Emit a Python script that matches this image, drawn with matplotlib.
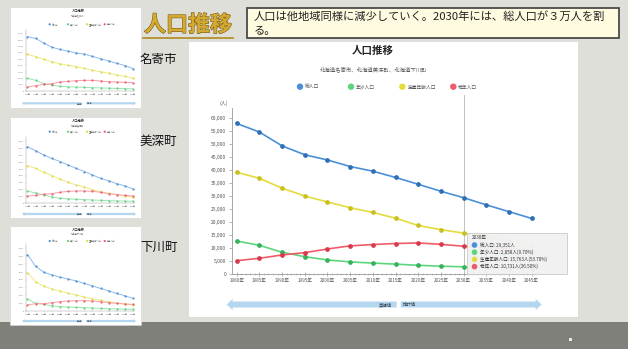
import matplotlib
matplotlib.use('Agg')
import matplotlib.pyplot as plt
from matplotlib.patches import Rectangle, Polygon, Circle
import matplotlib.patheffects as pe

plt.rcParams['font.family'] = ['Noto Sans CJK JP', 'DejaVu Sans']

# ---------------- data ----------------
years = [1980, 1985, 1990, 1995, 2000, 2005, 2010, 2015, 2020, 2025, 2030, 2035, 2040, 2045]
year_labels = [f"{y}年" for y in years]
series_names = ["総人口", "年少人口", "生産年齢人口", "老年人口"]

total = [57800, 54500, 49200, 45800, 43800, 41300, 39500, 37100, 34500, 31800, 29351, 26600, 24000, 21400]
young = [12750, 11100, 8450, 6750, 5500, 4750, 4300, 3900, 3450, 3100, 2858, 2600, 2400, 2200]
working = [39100, 36800, 33000, 30000, 27700, 25500, 23700, 21500, 18700, 17100, 15763, 14300, 12800, 11400]
elderly = [5200, 6150, 7400, 8300, 9700, 10900, 11400, 11800, 12000, 11500, 10731, 10200, 9700, 9100]

tooltip_year = "2030年"
tooltip_rows = ["総人口: 29,351人", "年少人口: 2,858人(9.70%)",
                "生産年齢人口: 15,763人(53.70%)", "老年人口: 10,731人(36.50%)"]

# mini charts (per town)
nayoro_total = [42400, 41000, 37400, 34200, 32400, 31000, 29700, 28800, 27000, 25200, 23400, 21600, 19800, 17500]
nayoro_young = [9900, 8300, 5700, 4700, 3600, 3300, 3100, 2900, 2600, 2400, 2200, 2000, 1900, 1700]
nayoro_working = [28600, 26800, 24700, 22900, 21300, 20000, 19000, 17700, 16100, 15100, 13800, 12500, 11400, 9900]
nayoro_elderly = [3100, 4200, 5200, 5700, 7000, 7500, 8100, 8300, 8300, 7800, 7300, 7000, 6800, 6500]

bifuka_total = [8190, 7600, 6980, 6480, 6030, 5540, 5040, 4590, 4100, 3600, 3240, 2840, 2520, 2070]
bifuka_young = [1780, 1490, 1200, 910, 720, 640, 580, 530, 480, 430, 390, 350, 320, 290]
bifuka_working = [5440, 5050, 4480, 4000, 3510, 3030, 2650, 2360, 1970, 1680, 1440, 1250, 1060, 870]
bifuka_elderly = [1060, 1150, 1300, 1400, 1590, 1730, 1780, 1780, 1730, 1590, 1400, 1250, 1150, 1060]

shimo_total = [7200, 5680, 4960, 4600, 4320, 4080, 3840, 3520, 3200, 2880, 2560, 2240, 1960, 1600]
shimo_young = [1530, 980, 850, 680, 550, 500, 460, 420, 380, 340, 300, 270, 240, 210]
shimo_working = [4890, 3740, 3190, 2810, 2550, 2260, 2040, 1790, 1570, 1360, 1190, 1020, 890, 770]
shimo_elderly = [770, 940, 940, 1060, 1190, 1280, 1320, 1320, 1280, 1190, 1060, 980, 890, 850]

town_names = ["名寄市", "美深町", "下川町"]
town_subtitles = ["北海道名寄市", "北海道美深町", "北海道下川町"]

line_colors = ['#4a90d9', '#5cd67d', '#e3dc3a', '#ef5b6b']
mark_colors = ['#2f6fb5', '#35b25a', '#c9c020', '#d83a4c']
mini_colors = ['#8fbbe8', '#9fe3b2', '#ede88a', '#f4a0aa']

W, H = 628, 349
fig = plt.figure(figsize=(W / 100, H / 100), dpi=100)
fig.patch.set_facecolor('#dfdfda')

bg = fig.add_axes([0, 0, 1, 1])
bg.set_xlim(0, W)
bg.set_ylim(H, 0)
bg.axis('off')


def pax(x0, y0, x1, y1):
    return fig.add_axes([x0 / W, 1 - y1 / H, (x1 - x0) / W, (y1 - y0) / H])


def pt(px):
    return px / 1.389


def band_arrow(x0, x1, xg, yc, h, hh, hl, color='#b4d6ee'):
    left = [(x0, yc), (x0 + hl, yc - hh / 2), (x0 + hl, yc - h / 2), (xg - 2, yc - h / 2),
            (xg - 2, yc + h / 2), (x0 + hl, yc + h / 2), (x0 + hl, yc + hh / 2)]
    right = [(x1, yc), (x1 - hl, yc - hh / 2), (x1 - hl, yc - h / 2), (xg + 2, yc - h / 2),
             (xg + 2, yc + h / 2), (x1 - hl, yc + h / 2), (x1 - hl, yc + hh / 2)]
    bg.add_patch(Polygon(left, closed=True, facecolor=color, edgecolor='none', zorder=3))
    bg.add_patch(Polygon(right, closed=True, facecolor=color, edgecolor='none', zorder=3))


# ---------------- slide decorations ----------------
bg.add_patch(Rectangle((0, 322), W, H - 322, facecolor='#80807a', edgecolor='none', zorder=1))
bg.add_patch(Rectangle((568.5, 337.5), 3, 3, facecolor='#e8e8e8', edgecolor='none', zorder=2))

t = bg.text(188, 25, "人口推移", fontsize=pt(22), fontweight='bold', color='#d4aa30',
            ha='center', va='center', zorder=5)
t.set_path_effects([pe.withStroke(linewidth=0.8, foreground='#7a5a12')])
bg.plot([143, 233], [37.5, 37.5], color='#b08a20', lw=1.2, zorder=5)

bg.add_patch(Rectangle((247, 8), 372, 30, facecolor='#fffbe0', edgecolor='#4a4a4a', lw=1.3, zorder=4))
bg.text(254, 16.5, "人口は他地域同様に減少していく。2030年には、総人口が３万人を割",
        fontsize=pt(11.3), color='#222222', ha='left', va='center', zorder=5)
bg.text(254, 31, "る。", fontsize=pt(11.3), color='#222222', ha='left', va='center', zorder=5)

for name, yy in zip(town_names, [59, 141, 247]):
    bg.text(140, yy, name, fontsize=pt(12.5), color='#111111', ha='left', va='center', zorder=5)

# ---------------- mini charts ----------------
minis = [
    dict(y0=7, yb=108, ytit=11, ysub=16.5, yleg=24.3, ytop=33.3, yzero=91, yarr=103.3,
         vals=[nayoro_total, nayoro_young, nayoro_working, nayoro_elderly], ymax=45000, step=5000),
    dict(y0=117, yb=218, ytit=121, ysub=126, yleg=131.7, ytop=141, yzero=203.3, yarr=214,
         vals=[bifuka_total, bifuka_young, bifuka_working, bifuka_elderly], ymax=9000, step=1000),
    dict(y0=226, yb=325, ytit=229.5, ysub=234, yleg=241, ytop=248.3, yzero=311, yarr=321,
         vals=[shimo_total, shimo_young, shimo_working, shimo_elderly], ymax=8000, step=1000),
]

for i, m in enumerate(minis):
    bg.add_patch(Rectangle((10, m['y0']), 131, m['yb'] - m['y0'], facecolor='white',
                           edgecolor='#d4d4d4', lw=0.4, zorder=2))
    bg.text(78, m['ytit'], "人口推移", fontsize=2.3, fontweight='bold', color='#333333',
            ha='center', va='center', zorder=4)
    bg.text(78, m['ysub'], town_subtitles[i], fontsize=1.6, color='#777777',
            ha='center', va='center', zorder=4)
    for k, lx in enumerate([49.7, 68, 87, 104.7]):
        bg.add_patch(Circle((lx, m['yleg']), 1.1, facecolor=line_colors[k], edgecolor='none', zorder=4))
        bg.text(lx + 1.8, m['yleg'], series_names[k], fontsize=1.5, color='#666666',
                ha='left', va='center', zorder=4)
    x_ax, x1980, x2045 = 25.5, 27.5, 133
    ppy = (x2045 - x1980) / 65.0
    ax_top = m['ytop'] - 4
    a = pax(x_ax, ax_top, x2045 + 2, m['yzero'])
    a.set_xlim(1980 - (x1980 - x_ax) / ppy, 2045 + 2 / ppy)
    a.set_ylim(0, m['ymax'] * (m['yzero'] - ax_top) / (m['yzero'] - m['ytop']))
    a.patch.set_alpha(0)
    for k, v in enumerate(m['vals']):
        a.plot(years, v, color=mini_colors[k], lw=0.7, marker='o', ms=0.6,
               mfc=line_colors[k], mec=line_colors[k])
    for s in ['top', 'right']:
        a.spines[s].set_visible(False)
    for s in ['left', 'bottom']:
        a.spines[s].set_color('#999999')
        a.spines[s].set_linewidth(0.3)
    a.set_xticks(years)
    a.set_xticklabels(year_labels, fontsize=1.3, color='#666666')
    yt = list(range(0, m['ymax'] + 1, m['step']))
    a.set_yticks(yt)
    a.set_yticklabels([f"{v:,}" for v in yt], fontsize=1.3, color='#666666')
    a.tick_params(length=0.8, width=0.2, pad=0.5, colors='#999999', labelcolor='#666666')
    xg = x1980 + 7 * 5 * ppy
    band_arrow(22, 136, xg, m['yarr'], 2.2, 4.0, 2.5)
    bg.text(xg - 2.5, m['yarr'], "実績値", fontsize=1.3, color='#334455', ha='right', va='center', zorder=4)
    bg.text(xg + 2.5, m['yarr'], "推計値", fontsize=1.3, color='#334455', ha='left', va='center', zorder=4)

# ---------------- main chart ----------------
bg.add_patch(Rectangle((188, 41), 390, 276, facecolor='white', edgecolor='#d6d6d6', lw=0.5, zorder=2))
bg.text(373, 51, "人口推移", fontsize=pt(10.5), fontweight='bold', color='#222222',
        ha='center', va='center', zorder=4)
bg.text(374, 69, "北海道名寄市、北海道美深町、北海道下川町", fontsize=pt(5.4), color='#555555',
        ha='center', va='center', zorder=4)
for k, lx in enumerate([300, 351, 402.3, 453.3]):
    bg.add_patch(Circle((lx, 86.7), 3.2, facecolor=line_colors[k], edgecolor='none', zorder=4))
    bg.text(lx + 5, 86.9, series_names[k], fontsize=pt(4.8), color='#555555',
            ha='left', va='center', zorder=4)

AX0, AX1, AY0, AY1 = 231.7, 535, 108.3, 274.3
PX1980, PX2045 = 236.7, 531.7
ppy = (PX2045 - PX1980) / 65.0
ppv = (AY1 - 117.7) / 60000.0
ax = pax(AX0, AY0, AX1, AY1)
ax.patch.set_alpha(0)
ax.set_xlim(1980 - (PX1980 - AX0) / ppy, 2045 + (AX1 - PX2045) / ppy)
ax.set_ylim(0, (AY1 - AY0) / ppv)

for k, v in enumerate([total, young, working, elderly]):
    ax.plot(years, v, color=line_colors[k], lw=1.2, marker='o', ms=2.4,
            mfc=mark_colors[k], mec=mark_colors[k], zorder=3)

ax.plot([2030, 2030], [0, (AY1 - 95) / ppv], color='#b5b5b5', lw=0.6, clip_on=False, zorder=2)

for s in ['top', 'right']:
    ax.spines[s].set_visible(False)
for s in ['left', 'bottom']:
    ax.spines[s].set_color('#9a9a9a')
    ax.spines[s].set_linewidth(0.6)
ax.set_xticks(years)
ax.set_xticklabels(year_labels, fontsize=pt(4.6), color='#555555')
ax.set_xticks(list(range(1980, 2046)), minor=True)
yticks = list(range(0, 60001, 5000))
ax.set_yticks(yticks)
ax.set_yticklabels([f"{v:,}" for v in yticks], fontsize=pt(5.0), color='#555555')
ax.tick_params(axis='y', length=2, width=0.5, pad=2, colors='#9a9a9a', labelcolor='#555555')
ax.tick_params(axis='x', which='major', direction='inout', length=3, width=0.5, pad=1.5,
               colors='#9a9a9a', labelcolor='#555555')
ax.tick_params(axis='x', which='minor', direction='inout', length=2, width=0.4, colors='#aaaaaa')
bg.text(224, 103.5, "(人)", fontsize=pt(5.0), color='#555555', ha='center', va='center', zorder=4)

# ---------------- overlay (tooltip above the lines) ----------------
ov = fig.add_axes([0, 0, 1, 1])
ov.set_xlim(0, W)
ov.set_ylim(H, 0)
ov.axis('off')
ov.patch.set_alpha(0)
ov.add_patch(Rectangle((467, 233), 100, 40.5, facecolor='#f1f1f1', edgecolor='#c8c8c8',
                       lw=0.6, alpha=0.96, zorder=6))
ov.text(472, 237.5, tooltip_year, fontsize=pt(4.6), color='#333333', ha='left', va='center', zorder=7)
for k, row in enumerate(tooltip_rows):
    yy = 245 + k * 7.2
    ov.add_patch(Circle((474.5, yy), 2.8, facecolor=line_colors[k], edgecolor='none', zorder=7))
    ov.text(480, yy, row, fontsize=pt(4.6), color='#333333', ha='left', va='center', zorder=7)

# bottom band arrow
band_arrow(226.7, 541.7, 398.7, 304.5, 6, 11, 6)
bg.text(391.5, 304.5, "実績値", fontsize=pt(4.4), color='#334455', ha='right', va='center', zorder=4)
bg.text(403, 304.5, "推計値", fontsize=pt(4.4), color='#334455', ha='left', va='center', zorder=4)

fig.savefig('out.png', dpi=100, facecolor=fig.get_facecolor())
